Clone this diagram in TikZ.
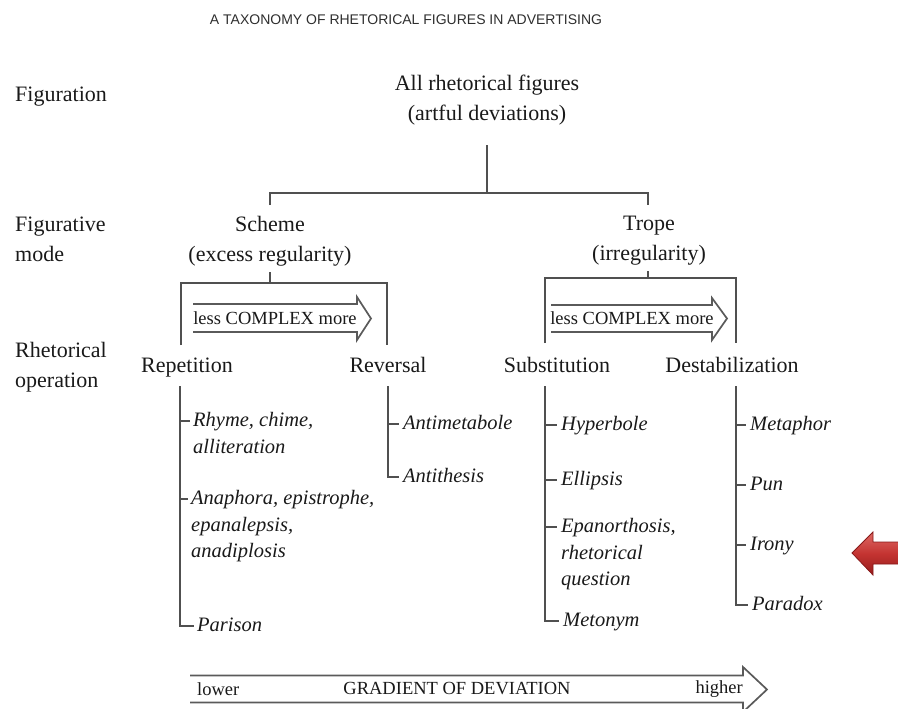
\documentclass[tikz,border=0pt]{standalone}
\usepackage{fontspec}
\setmainfont{Liberation Serif}
\newfontfamily\headfont{Liberation Sans}
\definecolor{ink}{RGB}{25,25,25}
\definecolor{wirecol}{RGB}{80,80,80}
\definecolor{gaugecol}{RGB}{90,90,90}
\definecolor{redtop}{RGB}{222,105,100}
\definecolor{redmid}{RGB}{196,52,50}
\definecolor{redbot}{RGB}{150,28,28}
\definecolor{redrim}{RGB}{135,25,25}
\begin{document}
\begin{tikzpicture}[x=1pt,y=-1pt,
  lbl/.style={inner sep=0pt, align=center, text=ink, font=\fontsize{22}{30}\selectfont},
  oper/.style={inner sep=0pt, anchor=base, text=ink, font=\fontsize{22}{30}\selectfont},
  side/.style={inner sep=0pt, anchor=west, align=left, text=ink, font=\fontsize{22}{30}\selectfont},
  item/.style={inner sep=0pt, anchor=north west, yshift=8.55pt, align=left, text=ink,
               font=\fontsize{20.5}{26.5}\selectfont\itshape},
  gtext/.style={inner sep=0pt, text=ink, font=\fontsize{18.5}{22}\selectfont},
  wire/.style={draw=wirecol, line width=1.2pt},
  gauge/.style={draw=gaugecol, line width=1.7pt, line join=miter},
]
\useasboundingbox (0,0) rectangle (898,709);

% heading
\node[inner sep=0pt, text=black!82, font=\headfont\fontsize{14}{16}\selectfont] (title) at (406,20)
  {A TAXONOMY OF RHETORICAL FIGURES IN ADVERTISING};

% level names on the left
\node[side] (lvA) at (15,97) {Figuration};
\node[side] (lvB) at (15,239) {Figurative\\mode};
\node[side] (lvC) at (15,367) {Rhetorical\\operation};

% tree nodes
\node[lbl] (root) at (487,100) {All rhetorical figures\\(artful deviations)};
\node[lbl] (scheme) at (270,241) {Scheme\\(excess regularity)};
\node[lbl] (trope) at (649,241) {Trope\\(irregularity)};

\node[oper] (rep) at (187,372) {Repetition};
\node[oper] (rev) at (388,372) {Reversal};
\node[oper] (sub) at (557,372) {Substitution};
\node[oper] (dest) at (732,372) {Destabilization};

% top split
\coordinate (rootfoot) at (487,145);
\coordinate (hub) at (487,193);
\coordinate (schemetop) at (270,205);
\coordinate (tropetop) at (648,205);
\draw[wire] (rootfoot) -- (hub);
\draw[wire] (schemetop) -- (schemetop |- hub) -- (tropetop |- hub) -- (tropetop);

% scheme bracket
\coordinate (sfoot) at (270,272);
\coordinate (sbar) at (270,283);
\coordinate (repbr) at (181,345);
\coordinate (revbr) at (387,345);
\draw[wire] (sfoot) -- (sbar);
\draw[wire] (repbr) |- (sbar) -| (revbr);

% trope bracket
\coordinate (tfoot) at (648,271);
\coordinate (tbar) at (648,278);
\coordinate (subbr) at (545,343);
\coordinate (destbr) at (736,343);
\draw[wire] (tfoot) -- (tbar);
\draw[wire] (subbr) |- (tbar) -| (destbr);

% complexity gauges
\node[gtext] (cxA) at (275,318) {less COMPLEX more};
\draw[gauge] (193,304) -- (357,304) -- (357,297) -- (371,318.5) -- (357,340) -- (357,332) -- (193,332);
\node[gtext] (cxB) at (632,318) {less COMPLEX more};
\draw[gauge] (551,305) -- (712,305) -- (712,298) -- (727,318.5) -- (712,340) -- (712,332) -- (551,332);

% repetition
\coordinate (repline) at (180,386);
\node[item] (rhyme) at (193,421) {Rhyme, chime,\\alliteration};
\node[item] (anaph) at (191,499) {Anaphora, epistrophe,\\epanalepsis,\\anadiplosis};
\node[item] (parison) at (197,626) {Parison};
\foreach \n in {rhyme,anaph,parison}
  \coordinate (\n T) at ([xshift=-3pt,yshift=-8.55pt]\n.north west);
\draw[wire] (repline) |- (parisonT);
\draw[wire] (repline |- rhymeT) -- (rhymeT);
\draw[wire] (repline |- anaphT) -- (anaphT);

% reversal
\coordinate (revline) at (388,386);
\node[item] (antimet) at (403,424) {Antimetabole};
\node[item] (antith) at (403,477) {Antithesis};
\foreach \n in {antimet,antith}
  \coordinate (\n T) at ([xshift=-4pt,yshift=-8.55pt]\n.north west);
\draw[wire] (revline) |- (antithT);
\draw[wire] (revline |- antimetT) -- (antimetT);

% substitution
\coordinate (subline) at (545,386);
\node[item] (hyper) at (561,425) {Hyperbole};
\node[item] (ellip) at (561,480) {Ellipsis};
\node[item] (epan) at (561,527) {Epanorthosis,\\rhetorical\\question};
\node[item] (meton) at (563,621) {Metonym};
\foreach \n in {hyper,ellip,epan,meton}
  \coordinate (\n T) at ([xshift=-4pt,yshift=-8.55pt]\n.north west);
\draw[wire] (subline) |- (metonT);
\draw[wire] (subline |- hyperT) -- (hyperT);
\draw[wire] (subline |- ellipT) -- (ellipT);
\draw[wire] (subline |- epanT) -- (epanT);

% destabilization
\coordinate (destline) at (736,386);
\node[item] (metaph) at (750,425) {Metaphor};
\node[item] (pun) at (750,485) {Pun};
\node[item] (irony) at (750,545) {Irony};
\node[item] (parad) at (752,605) {Paradox};
\foreach \n in {metaph,pun,irony,parad}
  \coordinate (\n T) at ([xshift=-4pt,yshift=-8.55pt]\n.north west);
\draw[wire] (destline) |- (paradT);
\draw[wire] (destline |- metaphT) -- (metaphT);
\draw[wire] (destline |- punT) -- (punT);
\draw[wire] (destline |- ironyT) -- (ironyT);

% gradient of deviation
\node[gtext, anchor=west] (low) at (197,689) {lower};
\node[gtext] (grad) at (457,689) {GRADIENT OF DEVIATION};
\node[gtext, anchor=east] (high) at (743,689) {higher};
\draw[gauge] (190,675.5) -- (743,675.5) -- (743,667) -- (767,689.5) -- (743,712) -- (743,702.5) -- (190,702.5);

% red pointer
\shade[top color=redtop, bottom color=redbot, middle color=redmid, draw=redrim, line width=0.8pt]
  (852,553) -- (873,532) -- (873,542) -- (899,542) -- (899,564) -- (873,564) -- (873,575) -- cycle;
\end{tikzpicture}
\end{document}
